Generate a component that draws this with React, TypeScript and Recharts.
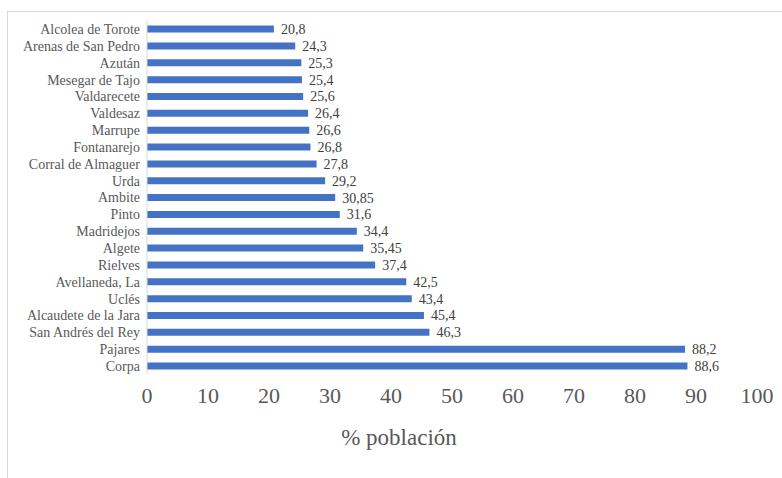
import { Bar, BarChart, LabelList, XAxis, YAxis } from "recharts";

const municipios = [
  "Alcolea de Torote",
  "Arenas de San Pedro",
  "Azután",
  "Mesegar de Tajo",
  "Valdarecete",
  "Valdesaz",
  "Marrupe",
  "Fontanarejo",
  "Corral de Almaguer",
  "Urda",
  "Ambite",
  "Pinto",
  "Madridejos",
  "Algete",
  "Rielves",
  "Avellaneda, La",
  "Uclés",
  "Alcaudete de la Jara",
  "San Andrés del Rey",
  "Pajares",
  "Corpa",
];

const porcentajes = [
  20.8, 24.3, 25.3, 25.4, 25.6, 26.4, 26.6, 26.8, 27.8, 29.2, 30.85, 31.6,
  34.4, 35.45, 37.4, 42.5, 43.4, 45.4, 46.3, 88.2, 88.6,
];

const xTicks = [0, 10, 20, 30, 40, 50, 60, 70, 80, 90, 100];

const data = municipios.map((name, i) => ({ name, value: porcentajes[i] }));

const FONT = "Liberation Serif, Times New Roman, serif";

export default function App() {
  return (
    <div
      style={{
        position: "absolute",
        left: 0,
        top: 0,
        width: 782,
        height: 478,
        overflow: "hidden",
        background: "#fff",
      }}
    >
      {/* chart frame, runs off the right and bottom edge */}
      <div
        style={{
          position: "absolute",
          left: 7,
          top: 11,
          width: 800,
          height: 500,
          border: "1px solid #d9d9d9",
          boxSizing: "border-box",
        }}
      />
      <div style={{ position: "absolute", left: 0, top: 0 }}>
        <BarChart
          width={782}
          height={478}
          data={data}
          layout="vertical"
          margin={{ top: 20.6, right: 25, left: 0, bottom: 28.6 }}
        >
          <XAxis
            type="number"
            domain={[0, 100]}
            ticks={xTicks}
            interval={0}
            axisLine={false}
            tickLine={false}
            tickSize={0}
            tickMargin={13}
            height={75}
            tick={{ fill: "#595959", fontSize: 22, fontFamily: FONT }}
            label={{
              value: "% población",
              position: "insideBottom",
              offset: 4.4,
              dx: -53,
              fill: "#595959",
              fontSize: 23,
              fontFamily: FONT,
            }}
          />
          <YAxis
            type="category"
            dataKey="name"
            width={147}
            interval={0}
            axisLine={{ stroke: "#d9d9d9", strokeWidth: 1 }}
            tickLine={false}
            tickSize={0}
            tickMargin={7}
            tick={{ fill: "#595959", fontSize: 14, fontFamily: FONT }}
          />
          <Bar
            dataKey="value"
            fill="#4472C4"
            barSize={7}
            isAnimationActive={false}
          >
            <LabelList
              dataKey="value"
              position="right"
              offset={7}
              formatter={(v: number) => String(v).replace(".", ",")}
              fill="#404040"
              fontSize={14}
              fontFamily={FONT}
            />
          </Bar>
        </BarChart>
      </div>
    </div>
  );
}
